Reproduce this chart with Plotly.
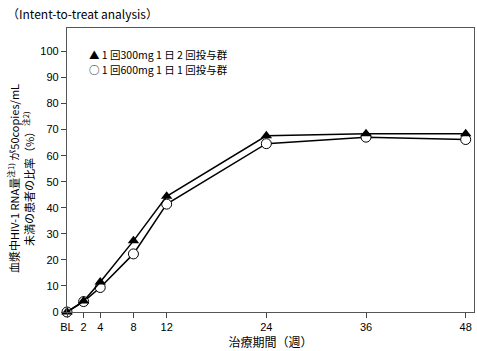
import plotly.graph_objects as go

weeks = [0, 2, 4, 8, 12, 24, 36, 48]
tick_labels = ["BL", "2", "4", "8", "12", "24", "36", "48"]
group_300bid = [0, 4.2, 11.5, 27.3, 44.4, 67.6, 68.4, 68.4]
group_600qd = [0, 4.0, 9.4, 22.3, 41.4, 64.6, 67.1, 66.2]
legend_300 = "▲ 1 回300mg 1 日 2 回投与群"
legend_600 = "○ 1 回600mg 1 日 1 回投与群"

font = "Noto Sans CJK JP, Noto Sans, sans-serif"
tickfont_family = "Liberation Sans, Arial, sans-serif"

fig = go.Figure()
fig.add_trace(go.Scatter(
    x=weeks, y=group_600qd, mode="lines+markers",
    line=dict(color="black", width=1.5),
    marker=dict(symbol="circle", size=10, color="white", line=dict(color="black", width=1)),
    showlegend=False, cliponaxis=False))
fig.add_trace(go.Scatter(
    x=weeks, y=group_300bid, mode="lines+markers",
    line=dict(color="black", width=1.5),
    marker=dict(symbol="triangle-up", size=10, color="black"),
    showlegend=False, cliponaxis=False))

ytitle1 = "血漿中HIV-1 RNA量<sup>注1)</sup> が50copies/mL"
ytitle2 = "未満の患者の比率（%）<sup>注2)</sup>"

fig.update_layout(
    width=477, height=351,
    margin=dict(l=67, r=3, t=28, b=39),
    paper_bgcolor="white", plot_bgcolor="white",
    font=dict(family=font, size=11, color="black"),
    xaxis=dict(range=[0, 49], tickvals=weeks, ticktext=tick_labels,
               ticks="outside", ticklen=5, tickcolor="#444", showgrid=False, zeroline=False,
               showline=True, linecolor="#555", linewidth=1.2, mirror=True,
               tickfont=dict(size=11, family=tickfont_family),
               title=dict(text="治療期間（週）", font=dict(size=12), standoff=4)),
    yaxis=dict(range=[0, 109], tickvals=list(range(0, 101, 10)),
               ticks="outside", ticklen=5, tickcolor="#444", showgrid=False, zeroline=False,
               showline=True, linecolor="#555", linewidth=1.2, mirror=True,
               tickfont=dict(size=11, family=tickfont_family)),
    annotations=[
        dict(text="（Intent-to-treat analysis）", x=0, y=1, xref="paper", yref="paper",
             xanchor="left", yanchor="middle", showarrow=False, font=dict(size=12),
             xshift=-62, yshift=15),
        dict(text=legend_300, x=0.05, y=0.905, xref="paper", yref="paper",
             xanchor="left", yanchor="middle", showarrow=False, font=dict(size=10.5)),
        dict(text=legend_600, x=0.05, y=0.853, xref="paper", yref="paper",
             xanchor="left", yanchor="middle", showarrow=False, font=dict(size=10.5)),
        dict(text=ytitle1, x=0, y=0.468, xref="paper", yref="paper", textangle=-90,
             xanchor="center", yanchor="middle", showarrow=False, font=dict(size=11),
             xshift=-54),
        dict(text=ytitle2, x=0, y=0.468, xref="paper", yref="paper", textangle=-90,
             xanchor="center", yanchor="middle", showarrow=False, font=dict(size=11),
             xshift=-39),
    ],
)

fig.write_html("out.html")
